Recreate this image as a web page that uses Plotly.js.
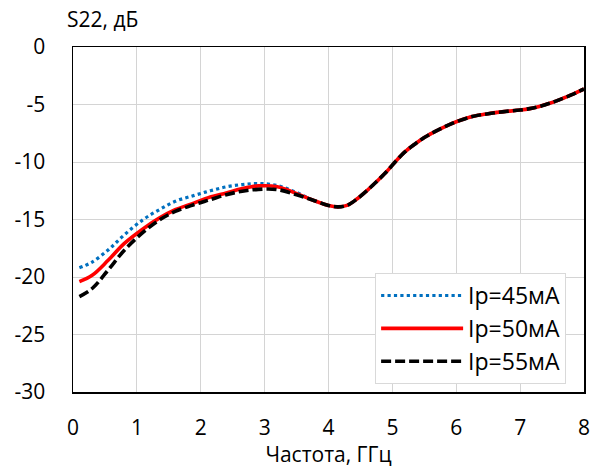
<!DOCTYPE html>
<html><head><meta charset="utf-8">
<script src="https://cdn.plot.ly/plotly-3.0.1.min.js"></script>
<style>body{margin:0;background:#fff}#chart{width:596px;height:468px}</style>
</head><body><div id="chart"></div>
<script>
const freq = [0.1, 0.3, 0.55, 0.8, 1.1, 1.35, 1.6, 1.9, 2.15, 2.4, 2.65, 2.9, 3.2, 3.5, 3.75, 4.0, 4.15, 4.3, 4.45, 4.6, 4.75, 4.9, 5.05, 5.2, 5.35, 5.5, 5.65, 5.8, 6.0, 6.25, 6.5, 6.75, 7.0, 7.15, 7.3, 7.45, 7.6, 7.8, 8.0];
const s22_45 = [-19.2, -18.7, -17.65, -16.35, -15.0, -14.15, -13.42, -12.9, -12.5, -12.16, -11.96, -11.87, -12.05, -12.65, -13.3, -13.78, -13.9, -13.75, -13.2, -12.5, -11.72, -10.9, -9.95, -9.1, -8.45, -7.87, -7.4, -6.98, -6.5, -6.05, -5.8, -5.62, -5.48, -5.36, -5.17, -4.92, -4.62, -4.17, -3.65];
const s22_50 = [-20.4, -19.85, -18.55, -17.1, -15.8, -14.88, -14.15, -13.55, -13.04, -12.69, -12.31, -12.08, -12.15, -12.75, -13.3, -13.78, -13.9, -13.75, -13.2, -12.5, -11.72, -10.9, -9.95, -9.1, -8.45, -7.87, -7.4, -6.98, -6.5, -6.05, -5.8, -5.62, -5.48, -5.36, -5.17, -4.92, -4.62, -4.17, -3.65];
const s22_55 = [-21.7, -21.0, -19.4, -17.7, -16.1, -15.05, -14.3, -13.7, -13.27, -12.84, -12.54, -12.38, -12.4, -12.85, -13.3, -13.78, -13.9, -13.75, -13.2, -12.5, -11.72, -10.9, -9.95, -9.1, -8.45, -7.87, -7.4, -6.98, -6.5, -6.05, -5.8, -5.62, -5.48, -5.36, -5.17, -4.92, -4.62, -4.17, -3.65];
const seriesNames = ['Ip=45мА', 'Ip=50мА', 'Ip=55мА'];
const yTickVals = [0, -5, -10, -15, -20, -25, -30];
const yTickText = ['0', '-5', '-10', '-15', '-20', '-25', '-30'];
const xTitle = 'Частота, ГГц';
const yTitle = 'S22, дБ';

const font = 'Open Sans, Liberation Sans, sans-serif';
const fs = 21;
const traces = [
  {x: freq, y: s22_45, name: seriesNames[0], legendgroup: 'a', mode: 'lines', line: {color: '#0070C0', width: 3.2, dash: 'dot', shape: 'spline', smoothing: 1}},
  {x: freq, y: s22_50, name: seriesNames[1], legendgroup: 'b', mode: 'lines', line: {color: '#FF0000', width: 3.6, dash: 'solid', shape: 'spline', smoothing: 1}},
  {x: freq, y: s22_55, name: seriesNames[2], legendgroup: 'c', mode: 'lines', line: {color: '#000000', width: 3.6, dash: '10px,4px', shape: 'spline', smoothing: 1}}
];
const layout = {
  width: 596, height: 468,
  margin: {l: 73, r: 12, t: 47, b: 76},
  paper_bgcolor: '#fff', plot_bgcolor: '#fff',
  font: {family: font, size: fs, color: '#000'},
  xaxis: {range: [0, 8], dtick: 1, tick0: 0, showgrid: true, gridcolor: '#d4d4d4', gridwidth: 1,
    showline: true, mirror: true, linecolor: '#000', linewidth: 1.5, ticks: '', zeroline: false,
    tickfont: {family: font, size: fs}, ticklabelstandoff: 16,
    title: {text: xTitle, font: {family: font, size: fs}, standoff: 4}},
  yaxis: {range: [-30, 0], tickvals: yTickVals, ticktext: yTickText, showgrid: true, gridcolor: '#d4d4d4', gridwidth: 1,
    showline: true, mirror: true, linecolor: '#000', linewidth: 1.5, ticks: '', zeroline: false,
    tickfont: {family: font, size: fs}, ticklabelstandoff: 22},
  showlegend: true,
  legend: {x: 0.965, y: 0.023, xanchor: 'right', yanchor: 'bottom', bgcolor: '#fff', bordercolor: '#d9d9d9', borderwidth: 1,
    font: {family: font, size: 23}, tracegroupgap: 1, itemwidth: 82, traceorder: 'normal'},
  annotations: [{text: yTitle, xref: 'paper', yref: 'paper', x: 0, y: 1, xshift: -8, yshift: 12, xanchor: 'left', yanchor: 'bottom', showarrow: false, font: {family: font, size: fs}}]
};
Plotly.newPlot('chart', traces, layout, {displayModeBar: false, staticPlot: true});
</script></body></html>
